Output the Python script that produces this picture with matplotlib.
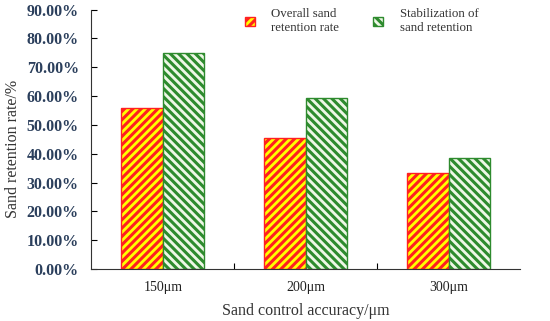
import numpy as np
import matplotlib.pyplot as plt
from matplotlib.patches import Patch
from matplotlib.ticker import FuncFormatter

plt.rcParams['font.family'] = ['Liberation Serif', 'DejaVu Serif']
plt.rcParams['hatch.linewidth'] = 2.2

categories = ['150μm', '200μm', '300μm']
overall = [55.8, 45.6, 33.3]
stabilization = [75.1, 59.4, 38.4]
series_names = ['Overall sand\nretention rate', 'Stabilization of\nsand retention']

fig = plt.figure(figsize=(5.5, 3.21), dpi=100)
ax = fig.add_axes([0.166, 0.162, 0.78, 0.808])

x = np.arange(len(categories))
w = 0.29
ax.bar(x - w / 2, overall, w, facecolor='#ffff00', edgecolor='#ff2020',
       hatch='////', linewidth=1.0)
ax.bar(x + w / 2, stabilization, w, facecolor='#eef7e6', edgecolor='#2e8b2e',
       hatch='\\\\\\\\', linewidth=1.0)

ax.set_xlim(-0.5, 2.5)
ax.set_ylim(0, 90)
ax.set_yticks(np.arange(0, 91, 10))
ax.yaxis.set_major_formatter(FuncFormatter(lambda v, p: f'{v:.2f}%'))
ax.set_xticks([0.5, 1.5])
ax.set_xticklabels([])
ax.set_xticks(x, minor=True)
ax.set_xticklabels(categories, minor=True)
ax.tick_params(axis='x', which='minor', length=0, pad=9, labelsize=10,
               labelcolor='#222222')
ax.tick_params(axis='x', which='major', direction='in', length=4)
ax.tick_params(axis='y', direction='in', length=4, labelsize=11.5,
               labelcolor='#2b3f5c', pad=9)
for lbl in ax.get_yticklabels():
    lbl.set_fontweight('bold')

ax.spines['top'].set_visible(False)
ax.spines['right'].set_visible(False)
ax.spines['left'].set_color('#333333')
ax.spines['bottom'].set_color('#333333')

ax.set_xlabel('Sand control accuracy/μm', fontsize=11.5, color='#333333')
ax.xaxis.set_label_coords(0.5, -0.13)
ax.set_ylabel('Sand retention rate/%', fontsize=11.5, color='#333333')
ax.yaxis.set_label_coords(-0.165, 0.463)

handles = [Patch(facecolor='#ffff00', edgecolor='#ff2020', hatch='////'),
           Patch(facecolor='#eef7e6', edgecolor='#2e8b2e', hatch='\\\\\\\\')]
fig.legend(handles, series_names, loc='upper left', bbox_to_anchor=(0.436, 0.99),
           borderaxespad=0, ncol=2, frameon=False, fontsize=9.3,
           handlelength=0.75, handleheight=0.75, columnspacing=2.6,
           handletextpad=1.3, labelcolor='#333333')

fig.savefig('out.png', dpi=100)
